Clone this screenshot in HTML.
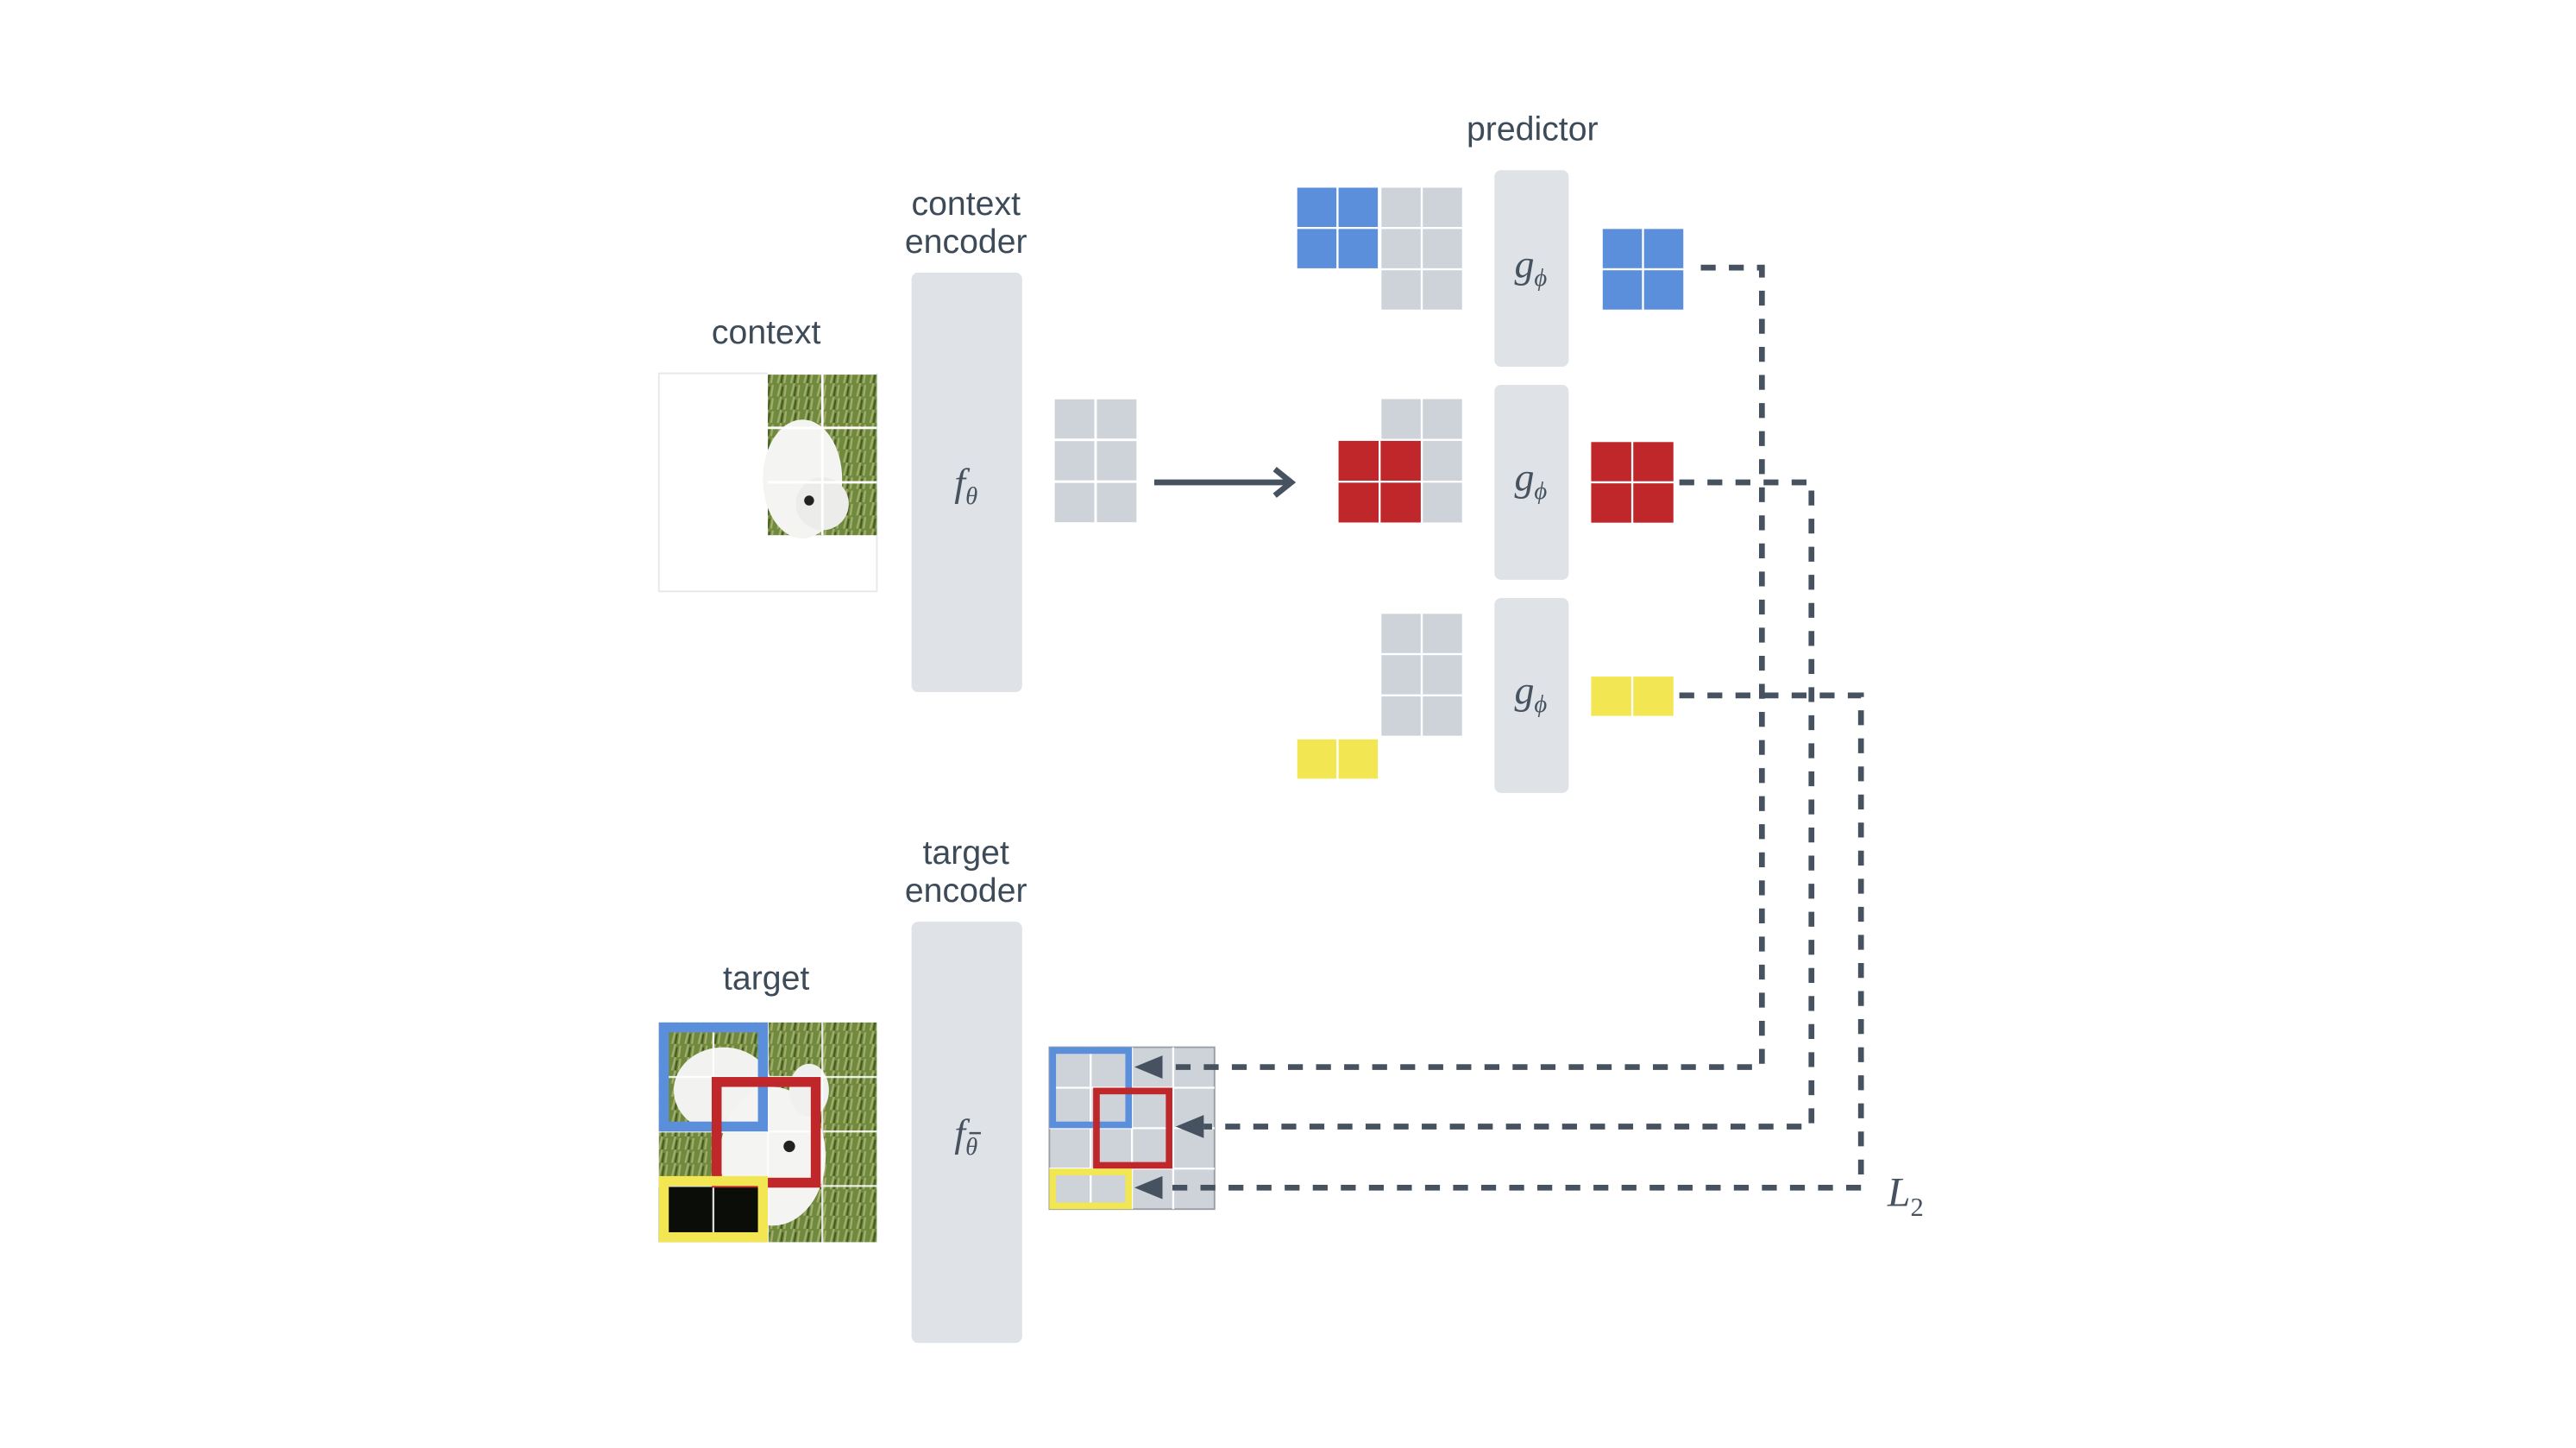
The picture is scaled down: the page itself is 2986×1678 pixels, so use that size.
<!DOCTYPE html>
<html><head><meta charset="utf-8"><style>
html,body{margin:0;padding:0;background:#fff;}
svg{display:block;}
.t{font-family:"Liberation Sans","DejaVu Sans",sans-serif;font-size:20.5px;fill:#3d4a58;text-anchor:middle;}
.m{font-family:"Liberation Serif","DejaVu Serif",serif;font-style:italic;fill:#46525f;text-anchor:middle;}
.d{stroke:#46525f;stroke-width:3.5;fill:none;stroke-dasharray:9 8;}
</style></head><body>
<svg width="2986" height="1678" viewBox="0 0 1560 876.6" xmlns="http://www.w3.org/2000/svg">
<defs>
<pattern id="grass" width="8" height="8" patternUnits="userSpaceOnUse">
<rect width="8" height="8" fill="#6f8a3e"/>
<path d="M1 8 L3 0 M5 8 L6 1" stroke="#a4ad6a" stroke-width="1.2"/>
<path d="M3 8 L4 2" stroke="#3f5a22" stroke-width="1"/>
</pattern>
</defs>
<rect width="1560" height="876.6" fill="#fff"/>
<g transform="translate(-2,0)">
<text class="t" x="930" y="85">predictor</text>
<text class="t" x="587" y="130">context</text>
<text class="t" x="587" y="153">encoder</text>
<text class="t" x="466" y="208">context</text>
<text class="t" x="587" y="523">target</text>
<text class="t" x="587" y="546">encoder</text>
<text class="t" x="466" y="599">target</text>

<rect x="401" y="226" width="132" height="132" fill="#fff" stroke="#e6e8ea" stroke-width="1"/>
<g>
<rect x="467" y="226" width="66" height="98" fill="url(#grass)"/>
<ellipse cx="488" cy="290" rx="24" ry="36" fill="#f4f4f2"/>
<ellipse cx="500" cy="305" rx="16" ry="16" fill="#ececea"/>
<circle cx="492" cy="303" r="3" fill="#222"/>
<path d="M467 226 h66 M467 259 h66 M467 292 h66 M500 226 v98" stroke="#fff" stroke-width="1.5"/>
</g>

<rect x="554" y="165" width="67" height="254" rx="4" fill="#dfe2e6"/>
<text class="m" x="587" y="300" font-size="24">f<tspan font-size="15" dy="5">θ</tspan></text>
<rect x="554" y="558" width="67" height="255" rx="4" fill="#dfe2e6"/>
<text class="m" x="587" y="694" font-size="24">f<tspan font-size="15" dy="5">θ</tspan></text>
<path d="M589 686 h7" stroke="#46525f" stroke-width="1.3"/>

<g fill="#ced3d9" stroke="#fff" stroke-width="1.5">
<rect x="640" y="241" width="25.5" height="25.3"/><rect x="665.5" y="241" width="25.5" height="25.3"/>
<rect x="640" y="266.3" width="25.5" height="25.3"/><rect x="665.5" y="266.3" width="25.5" height="25.3"/>
<rect x="640" y="291.6" width="25.5" height="25.3"/><rect x="665.5" y="291.6" width="25.5" height="25.3"/>
</g>
<path d="M701 292 H783 M774 284 L784 292 L774 300" stroke="#46525f" stroke-width="3.5" fill="none"/>

<rect x="907" y="103" width="45" height="119" rx="4" fill="#dfe2e6"/>
<rect x="907" y="233" width="45" height="118" rx="4" fill="#dfe2e6"/>
<rect x="907" y="362" width="45" height="118" rx="4" fill="#dfe2e6"/>
<text class="m" x="929" y="168" font-size="24">g<tspan font-size="15" dy="5">ϕ</tspan></text>
<text class="m" x="929" y="297" font-size="24">g<tspan font-size="15" dy="5">ϕ</tspan></text>
<text class="m" x="929" y="426" font-size="24">g<tspan font-size="15" dy="5">ϕ</tspan></text>

<g stroke="#fff" stroke-width="1.2">
<g fill="#ced3d9">
<rect x="838" y="113" width="25" height="25"/><rect x="863" y="113" width="25" height="25"/>
<rect x="838" y="138" width="25" height="25"/><rect x="863" y="138" width="25" height="25"/>
<rect x="838" y="163" width="25" height="25"/><rect x="863" y="163" width="25" height="25"/>
</g>
<g fill="#5b8edb">
<rect x="787" y="113" width="25" height="25"/><rect x="812" y="113" width="25" height="25"/>
<rect x="787" y="138" width="25" height="25"/><rect x="812" y="138" width="25" height="25"/>
<rect x="972" y="138" width="25" height="25"/><rect x="997" y="138" width="25" height="25"/>
<rect x="972" y="163" width="25" height="25"/><rect x="997" y="163" width="25" height="25"/>
</g>
<g fill="#ced3d9">
<rect x="838" y="241" width="25" height="25.3"/><rect x="863" y="241" width="25" height="25.3"/>
<rect x="863" y="266.3" width="25" height="25.3"/><rect x="863" y="291.6" width="25" height="25.3"/>
</g>
<g fill="#bf272b">
<rect x="812" y="266.3" width="25.5" height="25.3"/><rect x="837.5" y="266.3" width="25.5" height="25.3"/>
<rect x="812" y="291.6" width="25.5" height="25.3"/><rect x="837.5" y="291.6" width="25.5" height="25.3"/>
<rect x="965" y="267" width="25.5" height="25"/><rect x="990.5" y="267" width="25.5" height="25"/>
<rect x="965" y="292" width="25.5" height="25"/><rect x="990.5" y="292" width="25.5" height="25"/>
</g>
<g fill="#ced3d9">
<rect x="838" y="371" width="25" height="25"/><rect x="863" y="371" width="25" height="25"/>
<rect x="838" y="396" width="25" height="25"/><rect x="863" y="396" width="25" height="25"/>
<rect x="838" y="421" width="25" height="25"/><rect x="863" y="421" width="25" height="25"/>
</g>
<g fill="#f3e653">
<rect x="787" y="447" width="25" height="25"/><rect x="812" y="447" width="25" height="25"/>
<rect x="965" y="409" width="25.5" height="25"/><rect x="990.5" y="409" width="25.5" height="25"/>
</g>
</g>

<g>
<rect x="401" y="619" width="132" height="133" fill="url(#grass)"/>
<ellipse cx="440" cy="660" rx="30" ry="26" fill="#f2f2f0"/>
<ellipse cx="470" cy="700" rx="32" ry="42" fill="#f4f4f2"/>
<ellipse cx="492" cy="660" rx="12" ry="16" fill="#f0f0ee"/>
<circle cx="480" cy="694" r="3.5" fill="#222"/>
<rect x="401" y="718" width="66" height="34" fill="#0b0d08"/>
<path d="M401 652 h132 M401 685 h132 M401 718 h132 M434 619 v133 M467 619 v133 M500 619 v133" stroke="#fff" stroke-width="1.2" opacity="0.85"/>
<rect x="404" y="622" width="60" height="60" fill="none" stroke="#5b8edb" stroke-width="6"/>
<rect x="436" y="655" width="60" height="61" fill="none" stroke="#bf272b" stroke-width="6"/>
<rect x="404" y="715" width="60" height="34" fill="none" stroke="#f3e653" stroke-width="6"/>
</g>

<g>
<rect x="637.5" y="634" width="100" height="98" fill="#ced3d9" stroke="#9aa0a6" stroke-width="1"/>
<path d="M637.5 658.5 h100 M637.5 683 h100 M637.5 707.5 h100 M662.5 634 v98 M687.5 634 v98 M712.5 634 v98" stroke="#fff" stroke-width="1.2"/>
<rect x="639.5" y="636" width="46" height="45" fill="none" stroke="#5b8edb" stroke-width="4"/>
<rect x="666" y="660.5" width="44" height="45" fill="none" stroke="#bf272b" stroke-width="4"/>
<rect x="639.5" y="709.5" width="46" height="20.5" fill="none" stroke="#f3e653" stroke-width="4"/>
</g>

<path class="d" d="M1032 162 H1069 V646 H706"/>
<path class="d" d="M1019 292 H1099 V682 H731"/>
<path class="d" d="M1019 421 H1129 V719 H706"/>
<g fill="#46525f">
<path d="M689 646 L706 639 L706 653 Z"/>
<path d="M714 682 L731 675 L731 689 Z"/>
<path d="M689 719 L706 712 L706 726 Z"/>
</g>
<text class="m" x="1156" y="730" font-size="25">L<tspan font-size="16" dy="6" font-style="normal">2</tspan></text>
</g>
</svg>
</body></html>
